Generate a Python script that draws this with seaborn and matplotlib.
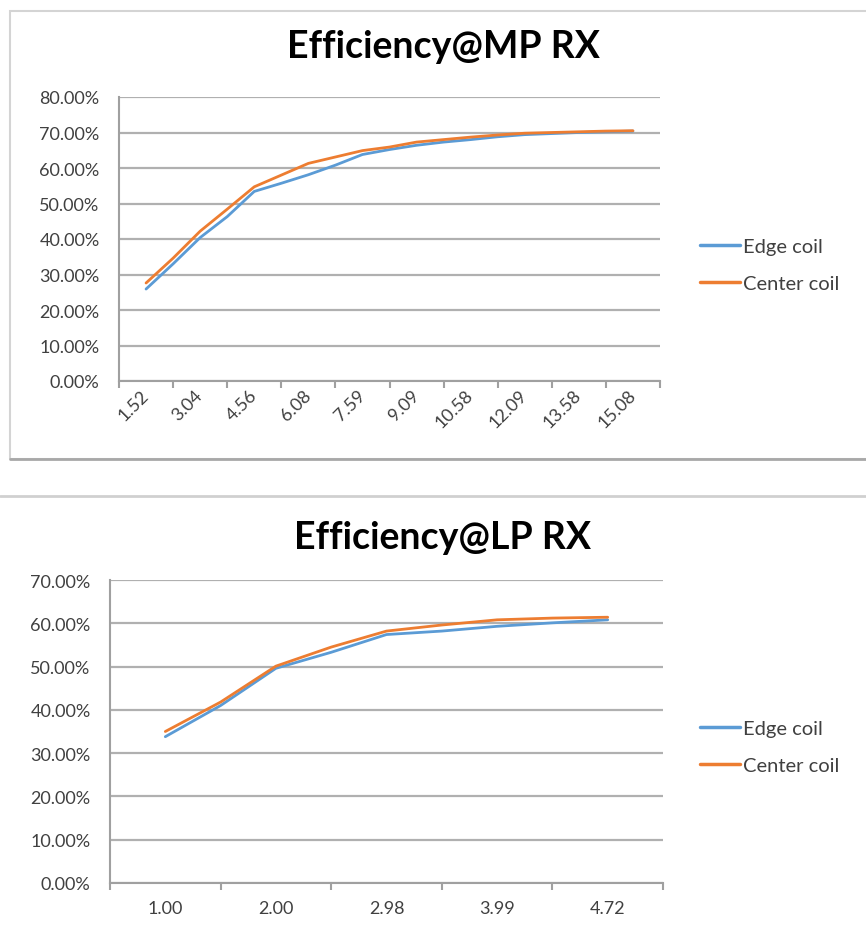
import numpy as np
import pandas as pd
import matplotlib
matplotlib.use("Agg")
import matplotlib.pyplot as plt
from matplotlib.patches import Rectangle
from matplotlib.lines import Line2D
from matplotlib.ticker import PercentFormatter, FixedLocator
import seaborn as sns

# MP RX chart: values read at every category label and half way between
mp_labels = ["1.52", "3.04", "4.56", "6.08", "7.59", "9.09", "10.58", "12.09", "13.58", "15.08"]
mp_edge = [25.9, 33.0, 40.4, 46.3, 53.4, 55.7, 58.1, 60.8, 63.8, 65.2,
           66.4, 67.3, 68.0, 68.8, 69.4, 69.7, 70.0, 70.2, 70.4]
mp_center = [27.6, 34.6, 42.2, 48.4, 54.7, 58.0, 61.3, 63.1, 64.9, 65.9,
             67.3, 68.0, 68.7, 69.3, 69.8, 70.0, 70.2, 70.4, 70.5]

# LP RX chart
lp_labels = ["1.00", "2.00", "2.98", "3.99", "4.72"]
lp_edge = [33.8, 41.0, 49.6, 53.3, 57.4, 58.2, 59.3, 60.1, 60.8]
lp_center = [35.0, 41.8, 50.1, 54.5, 58.2, 59.6, 60.8, 61.2, 61.4]

series = ["Edge coil", "Center coil"]
colors = ["#5B9BD5", "#ED7D31"]

W, H = 866, 928

sns.set_style("white")
plt.rcParams["font.family"] = ["Lato", "DejaVu Sans"]

fig = plt.figure(figsize=(W / 100, H / 100), dpi=100)


def fx(px):
    return px / W


def fy(py):
    return 1 - py / H


def draw(rect, labels, edge, center, ymax, title, title_y, rotate, legend_y):
    ax = fig.add_axes(rect)
    pos = np.arange(len(edge)) / 2  # two samples per category step
    df = pd.DataFrame({
        "pos": np.concatenate([pos, pos]),
        "eff": edge + center,
        "coil": [series[0]] * len(edge) + [series[1]] * len(center),
    })
    sns.lineplot(data=df, x="pos", y="eff", hue="coil", hue_order=series,
                 palette=colors, linewidth=2.0, ax=ax)

    n = len(labels)
    ax.set_xlim(-0.5, n - 0.5)
    ax.set_ylim(0, ymax)
    ax.set_xlabel("")
    ax.set_ylabel("")

    ax.yaxis.set_major_locator(FixedLocator(np.arange(0, ymax + 1, 10)))
    ax.yaxis.set_major_formatter(PercentFormatter(xmax=100, decimals=2))
    ax.grid(axis="y", color="#b0b0b0", linewidth=1.6)
    ax.grid(axis="x", visible=False)

    ax.set_xticks(range(n))
    ax.xaxis.set_minor_locator(FixedLocator(np.arange(-0.5, n, 1)))
    if rotate:
        ax.set_xticklabels(labels, rotation=45, ha="right", va="center",
                           rotation_mode="anchor")
        ax.tick_params(axis="x", which="major", length=0, pad=8)
    else:
        ax.set_xticklabels(labels)
        ax.tick_params(axis="x", which="major", length=0, pad=12)
    ax.tick_params(axis="x", which="minor", length=5, width=1.5,
                   color="#a0a0a0", direction="out", bottom=True)
    ax.tick_params(axis="y", length=5, width=1.5, color="#a0a0a0", pad=9)
    ax.tick_params(labelsize=13, labelcolor="#404040")

    for s in ["top", "right"]:
        ax.spines[s].set_visible(False)
    for s in ["left", "bottom"]:
        ax.spines[s].set_color("#a0a0a0")
        ax.spines[s].set_linewidth(1.5)

    fig.text(fx(443), fy(title_y), title, ha="center", va="center",
             fontsize=27, fontweight="bold", color="black")

    sns.move_legend(ax, loc="center left", bbox_to_anchor=(fx(700), fy(legend_y)),
                    bbox_transform=fig.transFigure, frameon=False, title=None,
                    fontsize=14.5, handlelength=2.0, handletextpad=0.15,
                    labelspacing=0.95, borderpad=0, borderaxespad=0)
    for t in ax.get_legend().get_texts():
        t.set_color("#404040")
    for h in ax.get_legend().legend_handles:
        h.set_linewidth(2.5)
    return ax


# top chart frame
fig.patches.append(Rectangle((fx(10), fy(460)), 1.0, fy(12) - fy(460),
                             transform=fig.transFigure, fill=False,
                             edgecolor="#d4d4d4", linewidth=1.5))
fig.lines.append(Line2D([fx(10), 1.0], [fy(460), fy(460)], transform=fig.transFigure,
                        color="#a8a8a8", linewidth=2))
# bottom chart frame top edge
fig.lines.append(Line2D([0, 1.0], [fy(497), fy(497)], transform=fig.transFigure,
                        color="#d0d0d0", linewidth=2))

draw([fx(119), fy(382), fx(660) - fx(119), fy(98) - fy(382)],
     mp_labels, mp_edge, mp_center, 80, "Efficiency@MP RX", 47, True, 266)
draw([fx(110), fy(884), fx(663) - fx(110), fy(581) - fy(884)],
     lp_labels, lp_edge, lp_center, 70, "Efficiency@LP RX", 538, False, 748)

fig.savefig("out.png", dpi=100, facecolor="white")
